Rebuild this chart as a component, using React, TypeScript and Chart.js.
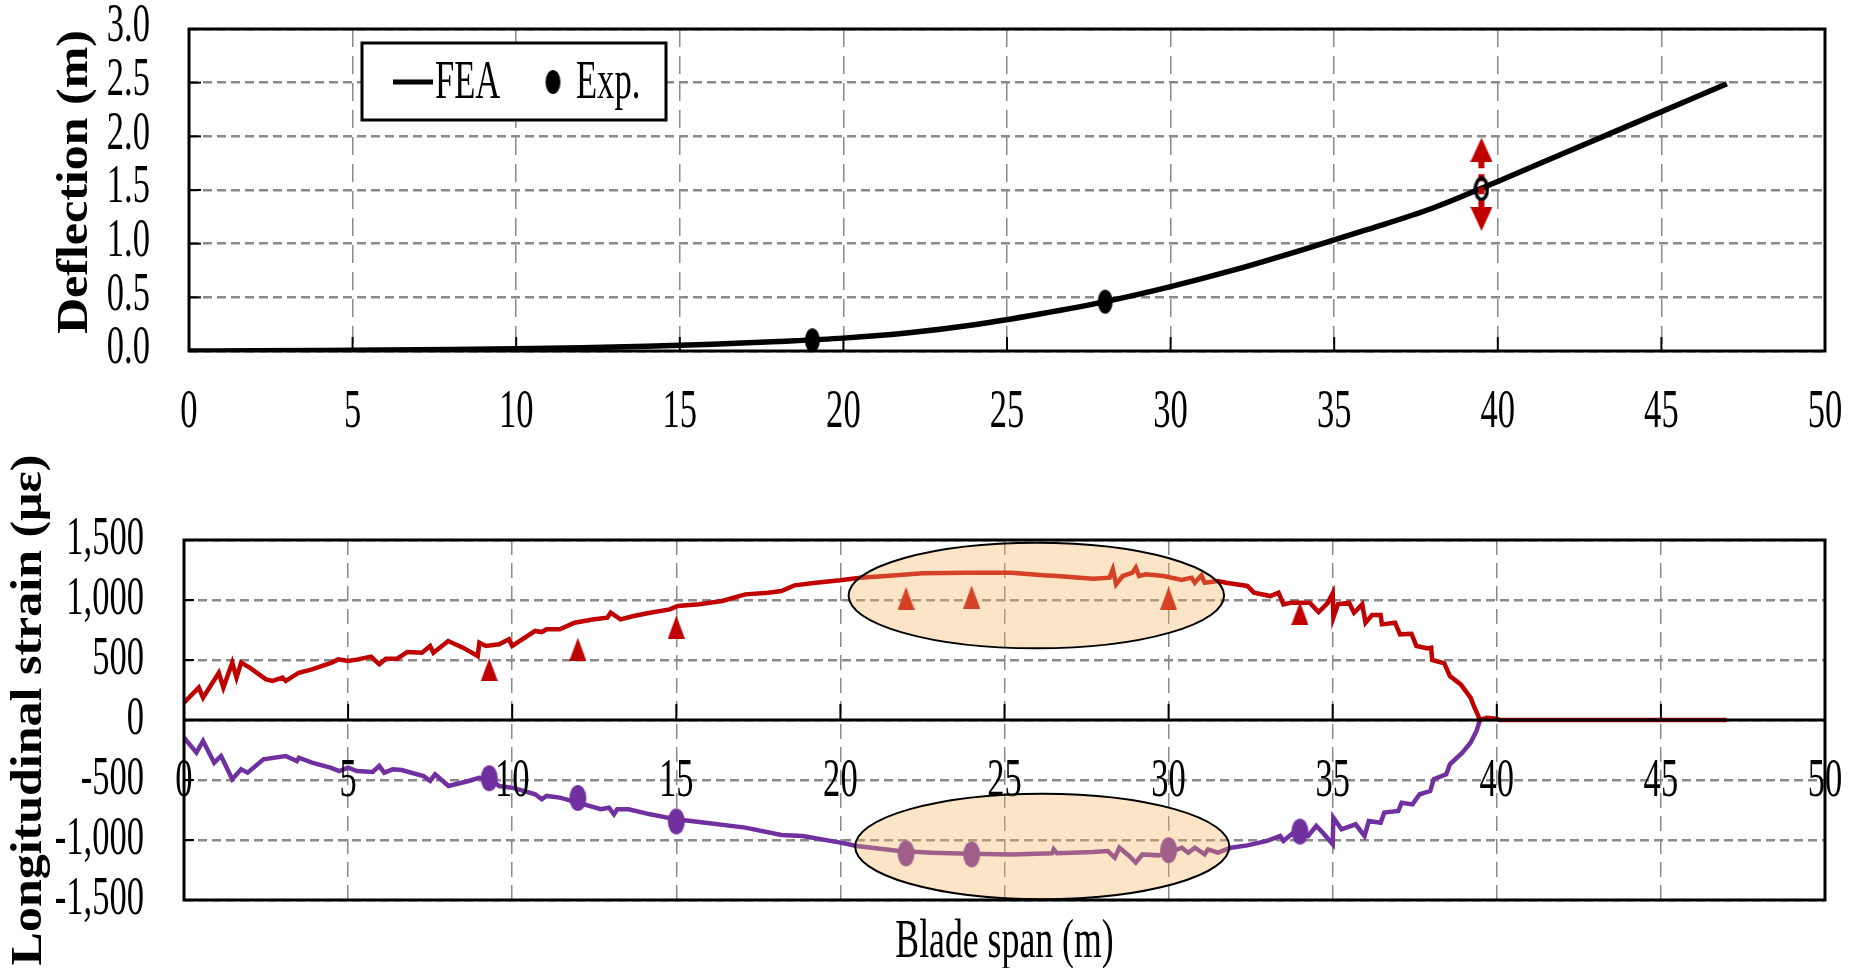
import React, { useEffect, useRef } from "react";
import { Chart, registerables } from "chart.js";

Chart.register(...registerables);

// ---------------- Data ----------------
const spanTickLabels = ["0", "5", "10", "15", "20", "25", "30", "35", "40", "45", "50"];
const deflectionTickLabels = ["0.0", "0.5", "1.0", "1.5", "2.0", "2.5", "3.0"];
const strainTickLabels = ["-1,500", "-1,000", "-500", "0", "500", "1,000", "1,500"];

const feaSpan = [0, 2, 4, 6, 8, 10, 12, 14, 16, 18, 20, 22, 24, 26, 28, 30, 32, 34, 36, 38, 40, 42, 44, 46, 47];
const feaDeflection = [0, 0.002, 0.005, 0.009, 0.014, 0.021, 0.031, 0.045, 0.064, 0.089, 0.12, 0.17, 0.245, 0.345, 0.46, 0.6, 0.76, 0.94, 1.13, 1.33, 1.58, 1.84, 2.1, 2.36, 2.49];

const expSpan = [19.05, 28.0, 39.5];
const expDeflection = [0.1, 0.46, 1.51];

const errorBarSpan = 39.5;
const errorBarStem = [1.34, 1.76];
const errorBarArrows = [1.875, 1.23];

const tensionFEA: number[][] = [
  [0, 145], [0.45, 270], [0.58, 186], [1.06, 394], [1.2, 270], [1.47, 478], [1.6, 353], [1.74, 478], [2.0, 436],
  [2.5, 339], [2.7, 325], [3.0, 353], [3.1, 325], [3.5, 394], [3.9, 422], [4.5, 478], [4.7, 505], [5.0, 492],
  [5.3, 505], [5.7, 528], [5.95, 464], [6.15, 511], [6.5, 511], [6.8, 567], [7.25, 561], [7.5, 617], [7.6, 561],
  [8.05, 658], [8.5, 603], [8.95, 533], [9.0, 645], [9.2, 617], [9.6, 631], [9.9, 672], [10.0, 617], [10.7, 742],
  [10.9, 733], [11.05, 756], [11.45, 756], [11.9, 811], [12.5, 839], [12.9, 853], [13.0, 894], [13.3, 839],
  [13.7, 867], [14.2, 894], [14.8, 922], [15.05, 950], [15.7, 964], [16.4, 992], [17.1, 1047], [17.8, 1061],
  [18.2, 1075], [18.6, 1122], [19.25, 1144], [20.0, 1164], [20.6, 1186], [21.4, 1200], [22.5, 1222], [23.9, 1228],
  [25.2, 1228], [26.2, 1206], [26.6, 1200], [27.7, 1178], [28.2, 1186], [28.3, 1256], [28.4, 1131], [28.6, 1200],
  [28.9, 1228], [29.0, 1270], [29.1, 1200], [29.3, 1214], [29.85, 1200], [30.4, 1167], [30.7, 1186], [30.8, 1144],
  [31.0, 1206], [31.1, 1144], [31.5, 1158], [31.75, 1144], [32.4, 1117], [32.6, 1061], [33.1, 1033], [33.35, 1061],
  [33.5, 964], [33.75, 978], [34.3, 978], [34.57, 900], [34.84, 972], [35.0, 1056], [35.02, 853], [35.16, 964],
  [35.5, 978], [35.65, 894], [35.9, 964], [36.0, 811], [36.2, 875], [36.46, 875], [36.5, 797], [36.9, 811],
  [37.05, 714], [37.4, 719], [37.55, 617], [37.9, 597], [38.0, 603], [38.03, 500], [38.4, 472], [38.57, 367],
  [38.9, 297], [39.2, 186], [39.3, 117], [39.49, 0], [39.7, 19], [39.97, 11], [40.1, 0], [47.0, 0],
];

const compressionFEA: number[][] = [
  [0, -147], [0.38, -272], [0.58, -175], [0.92, -356], [1.13, -300], [1.47, -494], [1.74, -411], [1.94, -439],
  [2.42, -328], [3.1, -300], [3.44, -342], [3.5, -314], [3.9, -356], [4.46, -397], [4.73, -425], [5.0, -397],
  [5.27, -425], [5.75, -433], [5.95, -383], [6.1, -439], [6.36, -411], [6.63, -417], [7.3, -467], [7.5, -508],
  [7.65, -453], [8.06, -550], [8.67, -508], [9.0, -481], [9.35, -494], [9.6, -550], [10.0, -564], [10.7, -619],
  [10.9, -661], [11.05, -633], [11.45, -647], [12.0, -689], [12.7, -744], [12.95, -731], [13.1, -786], [13.2, -744],
  [13.55, -744], [14.2, -786], [15.0, -828], [15.7, -850], [17.1, -897], [18.2, -958], [18.85, -967], [20.0, -1022],
  [20.5, -1050], [21.8, -1092], [22.8, -1106], [23.9, -1114], [25.2, -1120], [26.45, -1111], [26.5, -1078],
  [26.6, -1111], [27.7, -1100], [28.15, -1092], [28.36, -1147], [28.5, -1064], [28.8, -1133], [29.0, -1189],
  [29.2, -1120], [29.7, -1128], [30.0, -1106], [30.4, -1064], [30.6, -1106], [30.8, -1064], [31.1, -1120],
  [31.2, -1078], [31.5, -1106], [31.9, -1064], [32.4, -1045], [33.0, -1008], [33.4, -967], [33.5, -1008],
  [33.8, -939], [34.25, -967], [34.5, -883], [34.7, -939], [35.0, -1036], [35.02, -814], [35.27, -911],
  [35.7, -869], [35.97, -967], [36.1, -842], [36.46, -856], [36.57, -772], [37.0, -758], [37.1, -689],
  [37.43, -703], [37.65, -619], [37.97, -592], [38.08, -494], [38.46, -453], [38.57, -369], [38.95, -272],
  [39.2, -189], [39.38, -92], [39.49, 0],
];

const gaugeSpan = [9.3, 12, 15, 22, 24, 30, 34];
const gaugeTension = [420, 590, 775, 1015, 1025, 1015, 890];
const gaugeCompression = [-485, -650, -845, -1111, -1120, -1085, -930];

const highlightCenters = [[25.97, 1037], [26.15, -1054]];
const highlightRadii = [[5.72, 440], [5.7, 440]];

// ---------------- Styles ----------------
const RED = "#C00000";
const PURPLE = "#7030A0";
const GRID = "#8a8a8a";
const SERIF = '"Liberation Serif", "Times New Roman", serif';
const LABEL_FONT = `54px ${SERIF}`;
const TITLE_FONT = `bold 50px ${SERIF}`;
const SQUEEZE = 0.64;
const TITLE_SQUEEZE = 0.9;

function makeEllipse(w: number, h: number, fill: string | null, stroke: string | null, lw = 0) {
  const c = document.createElement("canvas");
  c.width = w + 4;
  c.height = h + 4;
  const g = c.getContext("2d")!;
  g.beginPath();
  g.ellipse(c.width / 2, c.height / 2, w / 2, h / 2, 0, 0, Math.PI * 2);
  if (fill) {
    g.fillStyle = fill;
    g.fill();
  }
  if (stroke) {
    g.lineWidth = lw;
    g.strokeStyle = stroke;
    g.stroke();
  }
  return c;
}

function makeTriangle(w: number, h: number, color: string, down: boolean) {
  const c = document.createElement("canvas");
  c.width = w;
  c.height = h;
  const g = c.getContext("2d")!;
  g.fillStyle = color;
  g.beginPath();
  if (!down) {
    g.moveTo(w / 2, 0);
    g.lineTo(w, h);
    g.lineTo(0, h);
  } else {
    g.moveTo(0, 0);
    g.lineTo(w, 0);
    g.lineTo(w / 2, h);
  }
  g.closePath();
  g.fill();
  return c;
}

function textH(ctx: CanvasRenderingContext2D, text: string, x: number, y: number, align: CanvasTextAlign, baseline: CanvasTextBaseline, font = LABEL_FONT, sx = SQUEEZE) {
  ctx.save();
  ctx.translate(x, y);
  ctx.scale(sx, 1);
  ctx.font = font;
  ctx.textAlign = align;
  ctx.textBaseline = baseline;
  ctx.fillStyle = "#000";
  ctx.fillText(text, 0, 0);
  ctx.restore();
}

function textV(ctx: CanvasRenderingContext2D, text: string, x: number, y: number, font = TITLE_FONT, sy = TITLE_SQUEEZE) {
  ctx.save();
  ctx.translate(x, y);
  ctx.rotate(-Math.PI / 2);
  ctx.scale(1, sy);
  ctx.font = font;
  ctx.textAlign = "center";
  ctx.textBaseline = "middle";
  ctx.fillStyle = "#000";
  ctx.fillText(text, 0, 0);
  ctx.restore();
}

function num(label: string) {
  return parseFloat(label.replace(/,/g, ""));
}

function line(ctx: CanvasRenderingContext2D, x1: number, y1: number, x2: number, y2: number) {
  ctx.beginPath();
  ctx.moveTo(x1, y1);
  ctx.lineTo(x2, y2);
  ctx.stroke();
}

const W = 1858;
const TOP_H = 440;
const BOT_H = 528;

export default function App() {
  const topRef = useRef<HTMLCanvasElement>(null);
  const botRef = useRef<HTMLCanvasElement>(null);

  useEffect(() => {
    const expDot = makeEllipse(15, 24, "#000", null);
    const expHollow = makeEllipse(12, 21, null, "#000", 3.5);
    const arrowUp = makeTriangle(22, 24, RED, false);
    const arrowDown = makeTriangle(22, 24, RED, true);
    const gaugeTri = makeTriangle(17, 23, RED, false);
    const gaugeDot = makeEllipse(17, 26, PURPLE, null);

    const commonScale = (min: number, max: number, step: number, dash: number[], lw: number) => ({
      type: "linear" as const,
      min,
      max,
      ticks: { stepSize: step, display: false },
      grid: { color: GRID, lineWidth: lw, drawTicks: false },
      border: { display: false, dash },
    });

    const topDecor = {
      id: "topDecor",
      afterDatasetsDraw(chart: any) {
        const { ctx, chartArea: a } = chart;
        const xs = chart.scales.x;
        const ys = chart.scales.y;
        ctx.save();
        deflectionTickLabels.forEach((l) => textH(ctx, l, a.left - 39, ys.getPixelForValue(num(l)) - 2, "right", "middle"));
        spanTickLabels.forEach((l) => textH(ctx, l, xs.getPixelForValue(num(l)), a.bottom + 62, "center", "middle"));
        ctx.strokeStyle = "#000";
        ctx.lineWidth = 2;
        spanTickLabels.slice(1, -1).forEach((l) => {
          const px = xs.getPixelForValue(num(l));
          line(ctx, px, a.bottom, px, a.bottom - 14);
        });
        deflectionTickLabels.slice(1, -1).forEach((l) => {
          const py = ys.getPixelForValue(num(l));
          line(ctx, a.left, py, a.left + 12, py);
        });
        ctx.lineWidth = 3;
        ctx.strokeRect(a.left, a.top, a.right - a.left, a.bottom - a.top);
        // legend
        ctx.fillStyle = "#fff";
        ctx.fillRect(362, 43, 304, 77);
        ctx.lineWidth = 3;
        ctx.strokeRect(362, 43, 304, 77);
        ctx.lineWidth = 5;
        line(ctx, 393, 82, 433, 82);
        textH(ctx, "FEA", 435, 98, "left", "alphabetic");
        ctx.drawImage(expDot, 553 - expDot.width / 2, 82 - expDot.height / 2);
        textH(ctx, "Exp.", 576, 98, "left", "alphabetic");
        textV(ctx, "Deflection (m)", 75, 182);
        ctx.restore();
      },
    };

    const botDecor = {
      id: "botDecor",
      afterDatasetsDraw(chart: any) {
        const { ctx, chartArea: a } = chart;
        const xs = chart.scales.x;
        const ys = chart.scales.y;
        const y0 = ys.getPixelForValue(0);
        ctx.save();
        strainTickLabels.forEach((l) => textH(ctx, l, a.left - 40, ys.getPixelForValue(num(l)), "right", "middle"));
        spanTickLabels.forEach((l) => textH(ctx, l, xs.getPixelForValue(num(l)), y0 + 62, "center", "middle"));
        // highlight ellipses
        highlightCenters.forEach((c, i) => {
          const cx = xs.getPixelForValue(c[0]);
          const cy = ys.getPixelForValue(c[1]);
          const rx = Math.abs(xs.getPixelForValue(c[0] + highlightRadii[i][0]) - cx);
          const ry = Math.abs(ys.getPixelForValue(c[1] + highlightRadii[i][1]) - cy);
          ctx.beginPath();
          ctx.ellipse(cx, cy, rx, ry, 0, 0, Math.PI * 2);
          ctx.fillStyle = "rgba(247, 180, 100, 0.36)";
          ctx.fill();
          ctx.lineWidth = 2;
          ctx.strokeStyle = "#000";
          ctx.stroke();
        });
        ctx.strokeStyle = "#000";
        ctx.lineWidth = 2;
        spanTickLabels.slice(1, -1).forEach((l) => {
          const px = xs.getPixelForValue(num(l));
          line(ctx, px, y0, px, y0 - 16);
        });
        strainTickLabels.slice(1, -1).forEach((l) => {
          const py = ys.getPixelForValue(num(l));
          line(ctx, a.left, py, a.left + 10, py);
        });
        ctx.lineWidth = 3;
        ctx.strokeRect(a.left, a.top, a.right - a.left, a.bottom - a.top);
        line(ctx, a.left, y0, a.right, y0);
        textV(ctx, "Longitudinal strain (με)", 29, 270);
        textH(ctx, "Blade span (m)", (a.left + a.right) / 2, 517, "center", "alphabetic", `55px ${SERIF}`, 0.65);
        ctx.restore();
      },
    };

    const baseOptions = {
      responsive: false,
      maintainAspectRatio: false,
      animation: false as const,
      devicePixelRatio: 1,
      events: [] as any[],
      plugins: { legend: { display: false }, tooltip: { enabled: false } },
    };

    const topChart = new Chart(topRef.current!, {
      type: "line",
      data: {
        datasets: [
          {
            data: expSpan.map((x, i) => ({ x, y: expDeflection[i] })),
            showLine: false,
            pointStyle: [expDot, expDot, expHollow] as any,
            pointRadius: 10,
          },
          {
            data: errorBarArrows.map((y) => ({ x: errorBarSpan, y })),
            showLine: false,
            pointStyle: [arrowUp, arrowDown] as any,
            pointRadius: 10,
          },
          {
            data: errorBarStem.map((y) => ({ x: errorBarSpan, y })),
            borderColor: RED,
            borderWidth: 6,
            borderDash: [7, 6],
            pointRadius: 0,
          },
          {
            data: feaSpan.map((x, i) => ({ x, y: feaDeflection[i] })),
            borderColor: "#000",
            borderWidth: 5.5,
            pointRadius: 0,
            tension: 0.4,
            cubicInterpolationMode: "monotone",
          },
        ],
      },
      options: {
        ...baseOptions,
        layout: { padding: { left: 189, right: W - 1825, top: 29, bottom: TOP_H - 351 } },
        scales: {
          x: commonScale(0, 50, 5, [18, 9], 1.5),
          y: commonScale(0, 3, 0.5, [9, 5], 2.5),
        },
      } as any,
      plugins: [topDecor],
    });

    const botChart = new Chart(botRef.current!, {
      type: "line",
      data: {
        datasets: [
          {
            data: gaugeSpan.map((x, i) => ({ x, y: gaugeTension[i] })),
            showLine: false,
            pointStyle: gaugeTri as any,
            pointRadius: 10,
          },
          {
            data: gaugeSpan.map((x, i) => ({ x, y: gaugeCompression[i] })),
            showLine: false,
            pointStyle: gaugeDot as any,
            pointRadius: 10,
          },
          {
            data: tensionFEA.map((p) => ({ x: p[0], y: p[1] })),
            borderColor: RED,
            borderWidth: 4.5,
            pointRadius: 0,
            tension: 0,
          },
          {
            data: compressionFEA.map((p) => ({ x: p[0], y: p[1] })),
            borderColor: PURPLE,
            borderWidth: 4.5,
            pointRadius: 0,
            tension: 0,
          },
        ],
      },
      options: {
        ...baseOptions,
        layout: { padding: { left: 184, right: W - 1825, top: 100, bottom: BOT_H - 460 } },
        scales: {
          x: commonScale(0, 50, 5, [15, 8], 1.5),
          y: commonScale(-1500, 1500, 500, [9, 5], 2.5),
        },
      } as any,
      plugins: [botDecor],
    });

    return () => {
      topChart.destroy();
      botChart.destroy();
    };
  }, []);

  return (
    <div style={{ position: "fixed", left: 0, top: 0, width: W, height: 968, background: "#fff", overflow: "hidden" }}>
      <canvas ref={topRef} width={W} height={TOP_H} style={{ position: "absolute", left: 0, top: 0, width: W, height: TOP_H }} />
      <canvas ref={botRef} width={W} height={BOT_H} style={{ position: "absolute", left: 0, top: TOP_H, width: W, height: BOT_H }} />
    </div>
  );
}
